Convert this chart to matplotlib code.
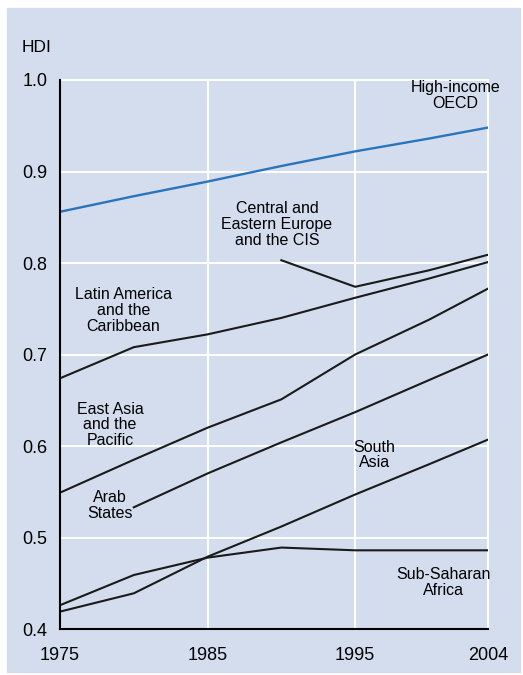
import matplotlib
matplotlib.use("Agg")
from matplotlib import pyplot as plt
from matplotlib.patches import Rectangle

plt.rcParams['font.family'] = ['Liberation Sans', 'DejaVu Sans']

years = [1975, 1980, 1985, 1990, 1995, 2000, 2004]
high_income_oecd = [0.856, 0.873, 0.889, 0.906, 0.922, 0.936, 0.948]
latin_america = [0.674, 0.708, 0.722, 0.740, 0.762, 0.783, 0.801]
east_asia = [0.549, 0.585, 0.620, 0.651, 0.700, 0.738, 0.772]
south_asia = [0.419, 0.439, 0.479, 0.512, 0.547, 0.580, 0.607]
sub_saharan = [0.426, 0.459, 0.478, 0.489, 0.486, 0.486, 0.486]

cee_years = [1990, 1995, 2000, 2004]
cee_cis = [0.803, 0.774, 0.792, 0.809]

arab_years = [1980, 1985, 1990, 1995, 2000, 2004]
arab_states = [0.533, 0.570, 0.604, 0.637, 0.672, 0.700]

xticks = [1975, 1985, 1995, 2004]
yticks = [0.4, 0.5, 0.6, 0.7, 0.8, 0.9, 1.0]

bg = '#d3ddee'
fig = plt.figure(figsize=(5.23, 6.75), dpi=100)
fig.patches.append(Rectangle((7 / 523, 3 / 675), 513 / 523, 664 / 675,
                             transform=fig.transFigure, color=bg, zorder=-1))
ax = fig.add_axes([60 / 523, 1 - 629 / 675, 428 / 523, 549 / 675])
ax.set_facecolor(bg)

# white grid, drawn by hand so the edges at 1.0 and 2004 show
for x in xticks[1:]:
    ax.axvline(x, color='white', lw=1.5, clip_on=False, zorder=1)
for y in yticks[1:]:
    ax.axhline(y, color='white', lw=1.5, clip_on=False, zorder=1)

ax.plot(years, high_income_oecd, color='#2a74bb', lw=1.7, zorder=3)
for xs, ys in [(years, latin_america), (years, east_asia), (years, south_asia),
               (years, sub_saharan), (cee_years, cee_cis), (arab_years, arab_states)]:
    ax.plot(xs, ys, color='#1a1a1a', lw=1.5, zorder=3)

ax.set_xlim(1975, 2004)
ax.set_ylim(0.4, 1.0)
ax.set_xticks(xticks)
ax.set_yticks(yticks)
ax.set_yticklabels(['%.1f' % v for v in yticks])
ax.tick_params(axis='y', length=0, labelsize=13, pad=9)
ax.tick_params(axis='x', length=0, labelsize=13, pad=13)
for s in ['top', 'right']:
    ax.spines[s].set_visible(False)
for s in ['left', 'bottom']:
    ax.spines[s].set_linewidth(1.5)
    ax.spines[s].set_zorder(4)

fig.text(37 / 523, 1 - 48 / 675, 'HDI', fontsize=12.5, ha='center', va='center')

kw = dict(fontsize=11.5, ha='center', va='center', linespacing=1.05, zorder=5)
ax.text(2001.8, 0.983, 'High-income\nOECD', clip_on=False, **kw)
ax.text(1989.7, 0.842, 'Central and\nEastern Europe\nand the CIS', **kw)
ax.text(1979.3, 0.748, 'Latin America\nand the\nCaribbean', **kw)
ax.text(1978.4, 0.623, 'East Asia\nand the\nPacific', **kw)
ax.text(1978.4, 0.535, 'Arab\nStates', **kw)
ax.text(1996.3, 0.590, 'South\nAsia', **kw)
ax.text(2001.0, 0.451, 'Sub-Saharan\nAfrica', clip_on=False, **kw)

fig.savefig('out.png', dpi=100)
